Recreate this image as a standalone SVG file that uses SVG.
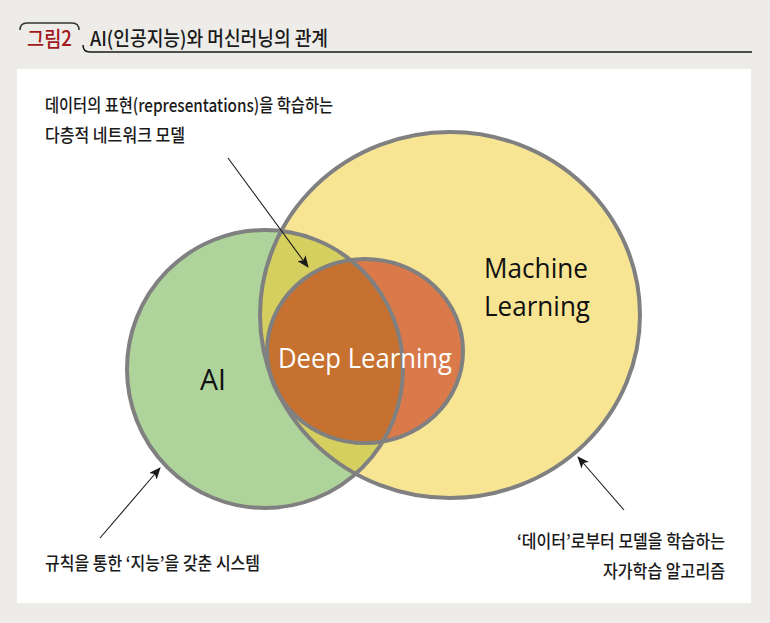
<svg xmlns="http://www.w3.org/2000/svg" width="770" height="623" viewBox="0 0 770 623">
<defs>
<style>
.ko{font-family:"Noto Sans CJK KR","Noto Sans",sans-serif;fill:#1a1a1a}
.ann{font-size:18px;font-weight:500}
.en{font-family:"Open Sans","Liberation Sans",sans-serif}
.ring{fill:none;stroke:#808080;stroke-width:4}
.arr{stroke:#1a1a1a;stroke-width:1.1;fill:none;marker-end:url(#ah)}
</style>
<marker id="ah" viewBox="0 0 12 10" refX="11" refY="5" markerWidth="12" markerHeight="10" markerUnits="userSpaceOnUse" orient="auto">
<path d="M0,0 L12,5 L0,10 L3,5 Z" fill="#1a1a1a"/>
</marker>
<clipPath id="clipML"><ellipse cx="450" cy="315" rx="190" ry="183"/></clipPath>
<clipPath id="clipDL"><ellipse cx="365" cy="351" rx="98" ry="92"/></clipPath>
</defs>
<rect x="0" y="0" width="770" height="623" fill="#edece8"/>
<rect x="17" y="69" width="734" height="534" fill="#ffffff"/>
<g id="title">
<path d="M20 30 Q20 23 27 23 L72 23 Q79 23 79 30" fill="none" stroke="#333" stroke-width="1.5"/>
<path d="M83 45 Q83 52 90 52 L752 52" fill="none" stroke="#1a1a1a" stroke-width="1.6"/>
<text x="27" y="46" class="ko" style="font-size:21px;font-weight:500;fill:#a3181c" textLength="45" lengthAdjust="spacingAndGlyphs">그림2</text>
<text x="90" y="46" class="ko" style="font-size:20px;font-weight:500" textLength="238" lengthAdjust="spacingAndGlyphs">AI(인공지능)와 머신러닝의 관계</text>
</g>
<g id="venn-fills">
<ellipse cx="265" cy="369" rx="138" ry="139" fill="#aed49b"/>
<ellipse cx="450" cy="315" rx="190" ry="183" fill="#f7e594"/>
<ellipse cx="265" cy="369" rx="138" ry="139" fill="#d4cf5e" clip-path="url(#clipML)"/>
<ellipse cx="365" cy="351" rx="98" ry="92" fill="#da7a4a"/>
<ellipse cx="265" cy="369" rx="138" ry="139" fill="#c6712f" clip-path="url(#clipDL)"/>
</g>
<g id="AI">
<ellipse class="ring" cx="265" cy="369" rx="138" ry="139"/>
<text x="200" y="390" class="en" style="font-size:29px;fill:#111" textLength="26" lengthAdjust="spacingAndGlyphs">AI</text>
</g>
<g id="ML">
<ellipse class="ring" cx="450" cy="315" rx="190" ry="183"/>
<text x="484" y="278" class="en" style="font-size:28px;fill:#111" textLength="104" lengthAdjust="spacingAndGlyphs">Machine</text>
<text x="484" y="316" class="en" style="font-size:28px;fill:#111" textLength="106" lengthAdjust="spacingAndGlyphs">Learning</text>
</g>
<g id="DL">
<ellipse class="ring" cx="365" cy="351" rx="98" ry="92"/>
<text x="278" y="368" class="en" style="font-size:28px;fill:#ffffff" textLength="174" lengthAdjust="spacingAndGlyphs">Deep Learning</text>
</g>
<g id="label-dl">
<text x="45" y="112" class="ko ann" textLength="288" lengthAdjust="spacingAndGlyphs">데이터의 표현(representations)을 학습하는</text>
<text x="45" y="142" class="ko ann" textLength="140" lengthAdjust="spacingAndGlyphs">다층적 네트워크 모델</text>
</g>
<g id="label-ai">
<text x="45" y="570" class="ko ann" textLength="215" lengthAdjust="spacingAndGlyphs">규칙을 통한 ‘지능’을 갖춘 시스템</text>
</g>
<g id="label-ml">
<text x="725" y="548" class="ko ann" text-anchor="end" textLength="208" lengthAdjust="spacingAndGlyphs">‘데이터’로부터 모델을 학습하는</text>
<text x="725" y="578" class="ko ann" text-anchor="end" textLength="122" lengthAdjust="spacingAndGlyphs">자가학습 알고리즘</text>
</g>
<g id="connectors">
<line class="arr" x1="228" y1="158" x2="308" y2="267"/>
<line class="arr" x1="100" y1="538" x2="160" y2="468"/>
<line class="arr" x1="624" y1="510" x2="578" y2="457"/>
</g>
</svg>
